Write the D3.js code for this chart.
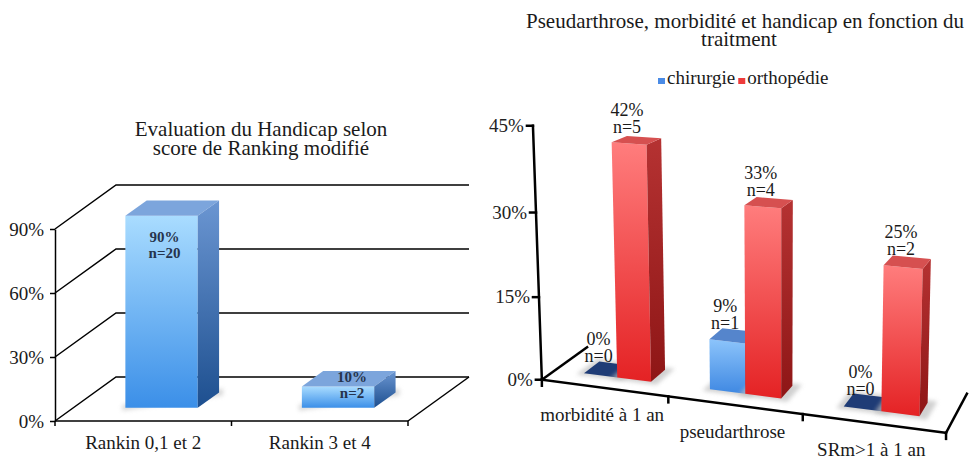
<!DOCTYPE html>
<html>
<head>
<meta charset="utf-8">
<script src="https://cdn.jsdelivr.net/npm/d3@7"></script>
<style>
  body { margin: 0; background: #fff; }
  svg { display: block; }
  text { font-family: "Liberation Serif", "Times New Roman", serif; fill: #1a1a1a; }
</style>
</head>
<body>
<svg id="chart" width="973" height="459"></svg>
<script>
// ---- data, left chart (Rankin)
var leftCats = ["Rankin 0,1 et 2", "Rankin 3 et 4"];
var leftValues = [90, 10];
var leftCounts = [20, 2];
var leftTicks = [0, 30, 60, 90];
var leftTitle = ["Evaluation du Handicap selon", "score de Ranking modifié"];

// ---- data, right chart (traitement)
var rightCats = ["morbidité à 1 an", "pseudarthrose", "SRm>1 à 1 an"];
var seriesNames = ["chirurgie", "orthopédie"];
var chirurgieValues = [0, 9, 0];
var chirurgieCounts = [0, 1, 0];
var orthopedieValues = [42, 33, 25];
var orthopedieCounts = [5, 4, 2];
var rightTicks = [0, 15, 30, 45];
var rightTitle = ["Pseudarthrose, morbidité et handicap en fonction du", "traitment"];

var svg = d3.select('#chart')
var defs = svg.append('defs')

function grad(id, c1, c2) {
  var g = defs.append('linearGradient').attr('id', id)
    .attr('x1', 0).attr('y1', 0).attr('x2', 0).attr('y2', 1)
  g.append('stop').attr('offset', '0%').attr('stop-color', c1)
  g.append('stop').attr('offset', '100%').attr('stop-color', c2)
}
grad('lFront', '#a9dcff', '#3b8fe8')
grad('lSide', '#6b96d2', '#1d4f8f')
grad('bFront', '#8cc4fb', '#3f88e2')
grad('rFront', '#ff7d7d', '#e42224')
grad('rSide', '#b53232', '#8e1616')
defs.append('filter').attr('id', 'blur').attr('x', '-20%').attr('y', '-50%').attr('width', '140%').attr('height', '200%')
  .append('feGaussianBlur').attr('stdDeviation', 2)

function poly(g, pts, fill) {
  return g.append('path').attr('d', 'M' + pts.map(function (p) { return p[0] + ',' + p[1] }).join('L') + 'Z')
    .attr('fill', fill)
}

// =============== LEFT CHART (oblique 3D) ===============
var L = { x0: 55, x1: 408, y0: 421, y1: 229, dx: 61, dy: -44 }
var lx = d3.scaleBand().domain(leftCats).range([L.x0, L.x1])
var ly = d3.scaleLinear().domain([0, 90]).range([L.y0, L.y1])
var left = svg.append('g')

leftTitle.forEach(function (t, i) {
  left.append('text').attr('x', 261).attr('y', 136 + i * 19).attr('text-anchor', 'middle')
    .attr('font-size', 21).text(t)
})

// walls : diagonal + back horizontal at each tick
leftTicks.forEach(function (t) {
  var y = ly(t)
  left.append('path')
    .attr('d', 'M' + L.x0 + ',' + y + 'L' + (L.x0 + L.dx) + ',' + (y + L.dy) + 'L' + (L.x1 + L.dx) + ',' + (y + L.dy))
    .attr('fill', 'none').attr('stroke', '#000').attr('stroke-width', 1.5)
})
left.append('path')
  .attr('d', 'M' + L.x1 + ',' + L.y0 + 'L' + (L.x1 + L.dx) + ',' + (L.y0 + L.dy))
  .attr('fill', 'none').attr('stroke', '#000').attr('stroke-width', 1.5)
left.append('path')
  .attr('d', 'M' + L.x0 + ',' + L.y0 + 'L' + L.x1 + ',' + L.y0)
  .attr('fill', 'none').attr('stroke', '#000').attr('stroke-width', 1.5)
// x ticks on band boundaries
d3.range(leftCats.length + 1).forEach(function (i) {
  var x = L.x0 + i * lx.step()
  left.append('line').attr('x1', x).attr('x2', x).attr('y1', L.y0).attr('y2', L.y0 + 5)
    .attr('stroke', '#000').attr('stroke-width', 1.5)
})

var yAxisL = left.append('g').attr('transform', 'translate(' + L.x0 + ',0)')
  .call(d3.axisLeft(ly).tickValues(leftTicks).tickFormat(function (d) { return d + '%' }).tickSize(5).tickSizeOuter(0).tickPadding(6))
yAxisL.select('.domain').attr('stroke-width', 1.5)
yAxisL.selectAll('.tick line').attr('stroke-width', 1.5)
yAxisL.selectAll('text').attr('font-size', 19).attr('font-family', '"Liberation Serif", serif').attr('fill', '#222')

leftCats.forEach(function (c, i) {
  left.append('text').attr('x', lx(c) + lx.bandwidth() / 2).attr('y', 449)
    .attr('text-anchor', 'middle').attr('font-size', 19).text(c)
})

// bars
var lz0 = 0.3, lz1 = 0.65
leftCats.forEach(function (c, i) {
  var bw = lx.bandwidth() * 0.41
  var bx = lx(c) + (lx.bandwidth() - bw) / 2
  var yt = ly(leftValues[i]), yb = ly(0)
  var ax = L.dx * lz0, ay = L.dy * lz0, bx2 = L.dx * lz1, by2 = L.dy * lz1
  poly(left, [[bx + ax - 3, yb + ay + 3], [bx + bw + bx2 + 4, yb + by2 + 3], [bx + bw + bx2 + 4, yb + by2 - 4], [bx + ax - 3, yb + ay - 3]], '#c8c8c8')
    .attr('filter', 'url(#blur)').attr('opacity', 0.7)
  poly(left, [[bx + ax, yt + ay], [bx + bw + ax, yt + ay], [bx + bw + ax, yb + ay], [bx + ax, yb + ay]], 'url(#lFront)')
  poly(left, [[bx + ax, yt + ay], [bx + bw + ax, yt + ay], [bx + bw + bx2, yt + by2], [bx + bx2, yt + by2]], '#7ca5dc')
  poly(left, [[bx + bw + ax, yt + ay], [bx + bw + bx2, yt + by2], [bx + bw + bx2, yb + by2], [bx + bw + ax, yb + ay]], 'url(#lSide)')
  var fy = yt + ay, byy = yb + ay
  var first = Math.min(fy + 26, byy - 26)
  var cx = bx + ax + bw / 2 + (first < fy ? 14 : 3)
  left.append('text').attr('x', cx).attr('y', first).attr('text-anchor', 'middle')
    .attr('font-size', 15).attr('font-weight', 'bold').style('fill', '#26344d').text(leftValues[i] + '%')
  left.append('text').attr('x', cx).attr('y', first + 16).attr('text-anchor', 'middle')
    .attr('font-size', 15).attr('font-weight', 'bold').style('fill', '#26344d').text('n=' + leftCounts[i])
})

// =============== RIGHT CHART (perspective 3D) ===============
// camera calibrated from the drawn frame : world (band units, value/45, depth) -> screen
var frameAnchors = [
  { w: [0, 0, 0], s: [543, 379] },
  { w: [3, 0, 0], s: [947, 432] },
  { w: [0, 0, 1], s: [587, 348] },
  { w: [3, 0, 1], s: [967, 393] },
  { w: [0, 1, 0], s: [533, 125] },
  { w: [3, 1, 0], s: [953, 156] },
  { w: [1, 0, 0], s: [667, 397] },
  { w: [2, 0, 0], s: [802, 415] }
]
var NC = [750, 280, 200]

function solve(A, b) {
  var n = b.length
  for (var i = 0; i < n; i++) {
    var p = i
    for (var r = i + 1; r < n; r++) if (Math.abs(A[r][i]) > Math.abs(A[p][i])) p = r
    var t = A[i]; A[i] = A[p]; A[p] = t
    var tb = b[i]; b[i] = b[p]; b[p] = tb
    for (var r2 = i + 1; r2 < n; r2++) {
      var f = A[r2][i] / A[i][i]
      for (var c = i; c < n; c++) A[r2][c] -= f * A[i][c]
      b[r2] -= f * b[i]
    }
  }
  var x = new Array(n).fill(0)
  for (var k = n - 1; k >= 0; k--) {
    var s = b[k]
    for (var c2 = k + 1; c2 < n; c2++) s -= A[k][c2] * x[c2]
    x[k] = s / A[k][k]
  }
  return x
}

function calibrate(pts) {
  var rows = [], rhs = []
  pts.forEach(function (p) {
    var X = p.w[0], Y = p.w[1], Z = p.w[2]
    var x = (p.s[0] - NC[0]) / NC[2], y = (p.s[1] - NC[1]) / NC[2]
    rows.push([X, Y, Z, 1, 0, 0, 0, 0, -x * X, -x * Y, -x * Z]); rhs.push(x)
    rows.push([0, 0, 0, 0, X, Y, Z, 1, -y * X, -y * Y, -y * Z]); rhs.push(y)
  })
  var n = 11, A = [], b = []
  for (var i = 0; i < n; i++) {
    A.push(new Array(n).fill(0)); b.push(0)
    for (var r = 0; r < rows.length; r++) {
      b[i] += rows[r][i] * rhs[r]
      for (var j = 0; j < n; j++) A[i][j] += rows[r][i] * rows[r][j]
    }
  }
  return solve(A, b)
}
var P = calibrate(frameAnchors)
function proj(X, Y, Z) {
  var w = P[8] * X + P[9] * Y + P[10] * Z + 1
  return [NC[0] + NC[2] * (P[0] * X + P[1] * Y + P[2] * Z + P[3]) / w,
          NC[1] + NC[2] * (P[4] * X + P[5] * Y + P[6] * Z + P[7]) / w]
}

var rx = d3.scaleBand().domain(rightCats).range([0, 3])
var ry = d3.scaleLinear().domain([0, 45]).range([0, 1])
var right = svg.append('g')

right.append('text').attr('x', 745).attr('y', 28).attr('text-anchor', 'middle').attr('font-size', 21).text(rightTitle[0])
right.append('text').attr('x', 739).attr('y', 46).attr('text-anchor', 'middle').attr('font-size', 21).text(rightTitle[1])

// legend
var legend = right.append('g')
var lgColors = ['#4a8be6', '#ee3b3b']
var lxPos = 658
seriesNames.forEach(function (s, i) {
  legend.append('rect').attr('x', lxPos).attr('y', 78).attr('width', 7).attr('height', 6).attr('fill', lgColors[i])
  var t = legend.append('text').attr('x', lxPos + 9).attr('y', 84).attr('font-size', 19).text(s)
  lxPos += 9 + t.node().getComputedTextLength() + 3
})

function seg(a, b, sw) {
  right.append('line').attr('x1', a[0]).attr('y1', a[1]).attr('x2', b[0]).attr('y2', b[1])
    .attr('stroke', '#000').attr('stroke-width', sw || 2.5).attr('stroke-linecap', 'square')
}
// floor frame + value axis
seg(proj(0, 0, 0), proj(3, 0, 0))
seg(proj(0, 0, 0), proj(0, 0, 1))
seg(proj(3, 0, 0), proj(3, 0, 1))
seg(proj(0, 0, 0), proj(0, 1, 0))
rightTicks.forEach(function (t) {
  var p = proj(0, ry(t), 0)
  seg(p, [p[0] - 6, p[1]], 2.5)
  right.append('text').attr('x', p[0] - 9).attr('y', p[1] + 6).attr('text-anchor', 'end')
    .attr('font-size', 19).style('fill', '#222').text(t + '%')
})
d3.range(rightCats.length + 1).forEach(function (i) {
  var p = proj(i * rx.step(), 0, 0)
  seg(p, [p[0], p[1] + 6], 2.5)
})
rightCats.forEach(function (c) {
  var p = proj(rx(c) + rx.bandwidth() / 2, 0, 0)
  right.append('text').attr('x', p[0] - 2).attr('y', p[1] + 33).attr('text-anchor', 'middle')
    .attr('font-size', 19).text(c)
})

// bars
var rz0 = 0.3, rz1 = 0.65
var series = [
  { values: chirurgieValues, counts: chirurgieCounts, front: 'url(#bFront)', top: '#5585cc', side: '#2f5fa8', flat: '#1f3c76' },
  { values: orthopedieValues, counts: orthopedieCounts, front: 'url(#rFront)', top: '#d65050', side: 'url(#rSide)', flat: '#8e1616' }
]
var labels = []
rightCats.forEach(function (c, ci) {
  series.forEach(function (s, si) {
    var x0 = rx(c) + rx.bandwidth() * (0.23 + si * 0.27), x1 = x0 + rx.bandwidth() * 0.27
    var v = ry(s.values[ci])
    // floor shadow
    poly(right, [proj(x0 - 0.04, 0, rz0 - 0.06), proj(x1 + 0.06, 0, rz0 - 0.06), proj(x1 + 0.06, 0, rz1 + 0.06), proj(x0 - 0.04, 0, rz1 + 0.06)], '#bdbdbd')
      .attr('filter', 'url(#blur)').attr('opacity', 0.7)
    if (v > 0) {
      poly(right, [proj(x0, v, rz0), proj(x1, v, rz0), proj(x1, 0, rz0), proj(x0, 0, rz0)], s.front)
      poly(right, [proj(x1, v, rz0), proj(x1, v, rz1), proj(x1, 0, rz1), proj(x1, 0, rz0)], s.side)
      poly(right, [proj(x0, v, rz0), proj(x1, v, rz0), proj(x1, v, rz1), proj(x0, v, rz1)], s.top)
    } else {
      poly(right, [proj(x0, 0, rz0), proj(x1, 0, rz0), proj(x1, 0, rz1), proj(x0, 0, rz1)], s.flat)
    }
    var pf = proj((x0 + x1) / 2, v, rz0), pm = proj((x0 + x1) / 2, v, (rz0 + rz1) / 2)
    labels.push({ x: pf[0] - 2, y: pm[1] - 7, v: s.values[ci], n: s.counts[ci] })
  })
})
labels.forEach(function (l) {
  right.append('text').attr('x', l.x).attr('y', l.y - 17).attr('text-anchor', 'middle').attr('font-size', 18).text(l.v + '%')
  right.append('text').attr('x', l.x).attr('y', l.y).attr('text-anchor', 'middle').attr('font-size', 18).text('n=' + l.n)
})
</script>
</body>
</html>
